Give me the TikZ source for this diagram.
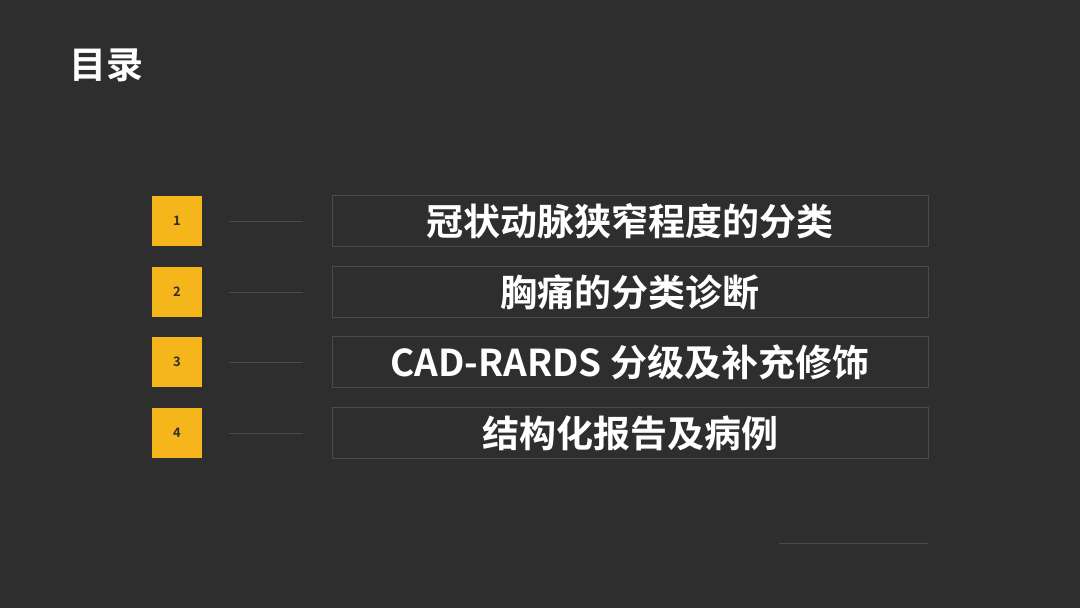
\documentclass[tikz,border=0pt]{standalone}
\usepackage{fontspec}
\newfontfamily\cjk{Noto Sans CJK SC Bold}
\definecolor{bgdark}{HTML}{2E2E2E}
\definecolor{tabgold}{HTML}{F5B61C}
\definecolor{rulegrey}{HTML}{4A4A4A}
\tikzset{
  numbox/.style={fill=tabgold, minimum width=50pt, minimum height=50pt, inner sep=0pt,
    font=\cjk\fontsize{13}{13}\selectfont, text=bgdark},
  itembox/.style={draw=rulegrey, line width=0.8pt, minimum width=596pt, minimum height=51pt,
    inner sep=0pt, font=\cjk\fontsize{37}{37}\selectfont, text=white},
  link/.style={draw=rulegrey, line width=0.8pt},
}
\begin{document}
\begin{tikzpicture}[x=1pt,y=-1pt]
\fill[bgdark] (0,0) rectangle (1080,608);
\useasboundingbox (0,0) rectangle (1080,608);
\node[anchor=west, text=white, font=\cjk\fontsize{37}{37}\selectfont, inner sep=0pt] (title) at (69,65) {目录};
%% items
\foreach \i/\y/\txt in {1/221/冠状动脉狭窄程度的分类, 2/292/胸痛的分类诊断,
  3/362/CAD-RARDS 分级及补充修饰, 4/433/结构化报告及病例} {
  \node[numbox] (num\i) at (177,\y) {\i};
  \node[itembox] (item\i) at (630,\y) {\txt};
  \coordinate (la\i) at (229,\y);
  \coordinate (lb\i) at (303,\y);
  \draw[link] (la\i) -- (lb\i);
}
\coordinate (foota) at (779,543);
\coordinate (footb) at (928,543);
\draw[link] (foota) -- (footb);
\end{tikzpicture}
\end{document}
